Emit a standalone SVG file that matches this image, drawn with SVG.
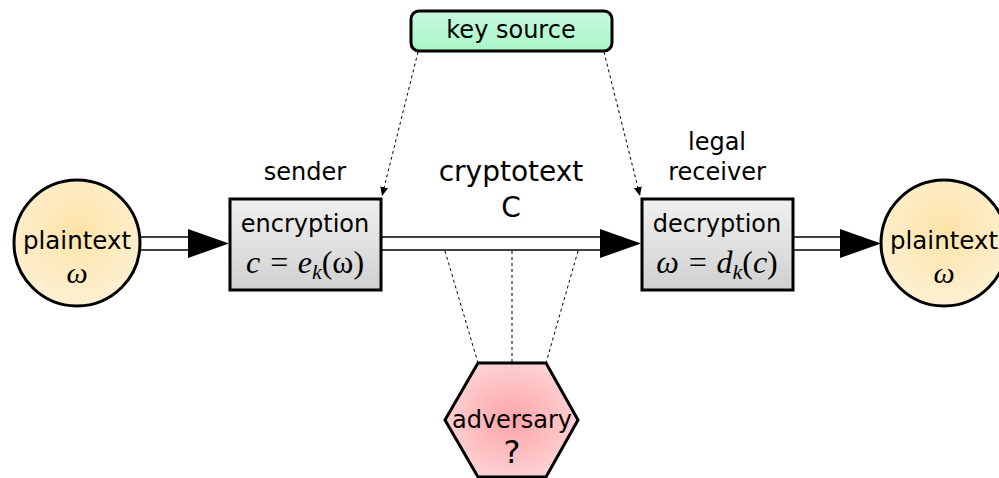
<svg xmlns="http://www.w3.org/2000/svg" width="999" height="478" viewBox="0 0 999 478">
<defs>
<radialGradient id="gPlain" cx="50%" cy="40%" r="60%"><stop offset="0" stop-color="#fde3a8"/><stop offset="1" stop-color="#fdf0d2"/></radialGradient>
<linearGradient id="gBox" x1="0" y1="0" x2="0" y2="1"><stop offset="0" stop-color="#f0f0f0"/><stop offset="1" stop-color="#d0d0d0"/></linearGradient>
<linearGradient id="gKey" x1="0" y1="0" x2="0" y2="1"><stop offset="0" stop-color="#c6fbe0"/><stop offset="1" stop-color="#a9f5c8"/></linearGradient>
<radialGradient id="gAdv" cx="50%" cy="50%" r="55%"><stop offset="0" stop-color="#fda4a8"/><stop offset="1" stop-color="#fdd4d6"/></radialGradient>
<marker id="dotArrow" markerWidth="10" markerHeight="10" refX="9" refY="5" orient="auto" markerUnits="userSpaceOnUse"><path d="M0,1 L9,5 L0,9 Z" fill="#000"/></marker>
</defs>
<style>
.t{font-family:"DejaVu Sans",sans-serif;fill:#000;text-anchor:middle}
.m{font-family:"Liberation Serif","DejaVu Serif",serif;font-style:italic;fill:#000;text-anchor:middle}
.node{stroke:#000;stroke-width:3}
.dbl{stroke:#000;stroke-width:1.5;fill:none}
.dot{stroke:#000;stroke-width:1;fill:none;stroke-dasharray:3,3}
</style>
<g id="connectors">
<line class="dbl" x1="141" y1="237" x2="190" y2="237"/><line class="dbl" x1="141" y1="250" x2="190" y2="250"/>
<path d="M188,229 L229,243.5 L188,258 Z" fill="#000"/>
<line class="dbl" x1="381" y1="237" x2="602" y2="237"/><line class="dbl" x1="381" y1="250" x2="602" y2="250"/>
<path d="M600,229 L641,243.5 L600,258 Z" fill="#000"/>
<line class="dbl" x1="793" y1="237" x2="842" y2="237"/><line class="dbl" x1="793" y1="250" x2="842" y2="250"/>
<path d="M840,229 L881,243.5 L840,258 Z" fill="#000"/>
<line class="dot" x1="418" y1="52" x2="382" y2="196" marker-end="url(#dotArrow)"/>
<line class="dot" x1="604" y1="52" x2="640" y2="196" marker-end="url(#dotArrow)"/>
<line class="dot" x1="445" y1="251" x2="478" y2="363"/>
<line class="dot" x1="512" y1="251" x2="512" y2="363"/>
<line class="dot" x1="578" y1="251" x2="546" y2="363"/>
</g>
<g id="plaintext-left">
<circle class="node" cx="77" cy="243" r="63" fill="url(#gPlain)"/>
<text class="t" x="77" y="249" font-size="24.5">plaintext</text>
<text class="m" x="77" y="283" font-size="30">ω</text>
</g>
<g id="encryption">
<rect class="node" x="230" y="199" width="151" height="91" fill="url(#gBox)"/>
<text class="t" x="305" y="232" font-size="24">encryption</text>
<text class="m" x="305" y="273" font-size="32">c = e<tspan font-size="22" dy="6">k</tspan><tspan dy="-6" font-style="normal">(ω)</tspan></text>
<text class="t" x="305" y="180" font-size="24">sender</text>
</g>
<g id="decryption">
<rect class="node" x="642" y="199" width="151" height="91" fill="url(#gBox)"/>
<text class="t" x="717" y="232" font-size="24">decryption</text>
<text class="m" x="717" y="273" font-size="32">ω = d<tspan font-size="22" dy="6">k</tspan><tspan dy="-6" font-style="normal">(</tspan>c<tspan font-style="normal">)</tspan></text>
<text class="t" x="717" y="150" font-size="24">legal</text>
<text class="t" x="717" y="180" font-size="24">receiver</text>
</g>
<g id="plaintext-right">
<circle class="node" cx="944" cy="243" r="63" fill="url(#gPlain)"/>
<text class="t" x="944" y="249" font-size="24.5">plaintext</text>
<text class="m" x="944" y="283" font-size="30">ω</text>
</g>
<g id="key-source">
<rect class="node" x="411" y="11" width="201" height="40" rx="8" fill="url(#gKey)"/>
<text class="t" x="511" y="38" font-size="24">key source</text>
</g>
<g id="cryptotext">
<text class="t" x="511" y="181" font-size="28">cryptotext</text>
<text class="t" x="511" y="217" font-size="28">C</text>
</g>
<g id="adversary">
<polygon class="node" points="478,363 546,363 578,420 546,477 478,477 445,420" fill="url(#gAdv)"/>
<text class="t" x="512" y="428" font-size="24">adversary</text>
<text class="t" x="512" y="463" font-size="32">?</text>
</g>
</svg>
